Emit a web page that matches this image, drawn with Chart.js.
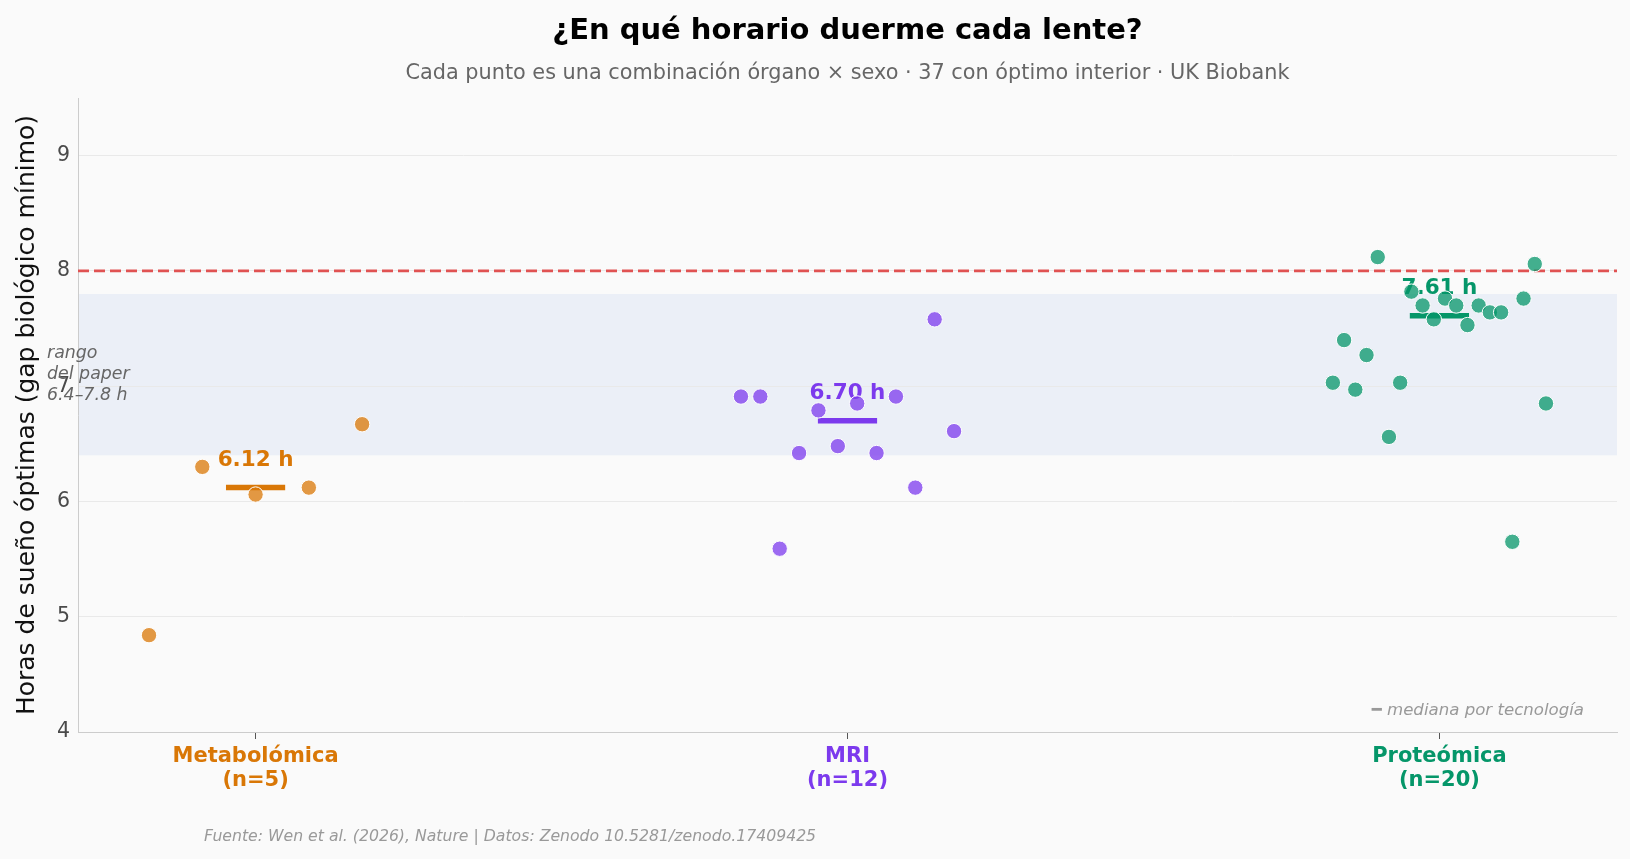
<!DOCTYPE html>
<html>
<head>
<meta charset="utf-8">
<script src="https://cdn.jsdelivr.net/npm/chart.js@4/dist/chart.umd.min.js"></script>
<style>
  html, body { margin: 0; padding: 0; background: #fafafa; }
  #wrap { width: 1630px; height: 859px; }
</style>
</head>
<body>
<div id="wrap"><canvas id="c" width="1630" height="859"></canvas></div>
<script>
// ---- data ----
const categories = ['Metabolómica', 'MRI', 'Proteómica'];
const counts = [5, 12, 20];
const metabHours = [4.84, 6.30, 6.06, 6.12, 6.67];
const mriHours = [6.91, 6.91, 5.59, 6.42, 6.79, 6.48, 6.85, 6.42, 6.91, 6.12, 7.58, 6.61];
const protHours = [7.03, 7.40, 6.97, 7.27, 8.12, 6.56, 7.03, 7.82, 7.70, 7.58, 7.76, 7.70, 7.53, 7.70, 7.64, 7.64, 5.65, 7.76, 8.06, 6.85];
const medians = [6.12, 6.70, 7.61];
const medianLabels = ['6.12 h', '6.70 h', '7.61 h'];
const paperRange = [6.4, 7.8];
const refHours = 8;
const yTicks = [4, 5, 6, 7, 8, 9];
const xTicks = [0, 1, 2];

const groupColors = ['#d97706', '#7c3aed', '#059669'];
const pointColors = ['rgba(217,119,6,0.75)', 'rgba(124,58,237,0.75)', 'rgba(5,150,105,0.75)'];
const FONT = "'DejaVu Sans', sans-serif";

// strip-plot placement: spread points evenly across a fixed band around each category
function strip(values, g) {
  const n = values.length;
  return values.map((v, i) => ({ x: g + (n > 1 ? -0.18 + 0.36 * i / (n - 1) : 0), y: v }));
}
const allGroups = [metabHours, mriHours, protHours];

const datasets = [];
allGroups.forEach((vals, g) => {
  datasets.push({
    label: categories[g],
    data: strip(vals, g),
    backgroundColor: pointColors[g],
    borderColor: '#ffffff',
    borderWidth: 1,
    pointRadius: 7.7,
    pointHoverRadius: 7.7,
    order: 0
  });
});
medians.forEach((m, g) => {
  datasets.push({
    label: 'mediana ' + categories[g],
    data: [{ x: g - 0.05, y: m }, { x: g + 0.05, y: m }],
    showLine: true,
    borderColor: groupColors[g],
    borderWidth: 5.5,
    borderCapStyle: 'butt',
    pointRadius: 0,
    order: 1
  });
});
datasets.push({
  label: 'ref',
  data: [{ x: -0.3, y: refHours }, { x: 2.3, y: refHours }],
  showLine: true,
  borderColor: '#e05252',
  borderWidth: 2.6,
  borderDash: [11, 5],
  pointRadius: 0,
  order: 2
});

const decor = {
  id: 'decor',
  beforeDraw(chart) {
    const { ctx, chartArea: a, scales: { y } } = chart;
    const y1 = y.getPixelForValue(paperRange[1]);
    const y0 = y.getPixelForValue(paperRange[0]);
    ctx.save();
    ctx.fillStyle = '#ebeff7';
    ctx.fillRect(a.left, y1, a.right - a.left, y0 - y1);
    ctx.restore();
  },
  beforeDatasetsDraw(chart) {
    const { ctx, scales: { x, y } } = chart;
    ctx.save();
    ctx.font = 'bold 21.5px ' + FONT;
    ctx.textAlign = 'center';
    ctx.textBaseline = 'alphabetic';
    medians.forEach((m, g) => {
      ctx.fillStyle = groupColors[g];
      ctx.fillText(medianLabels[g], x.getPixelForValue(g), y.getPixelForValue(m) - 22);
    });
    ctx.restore();
  },
  afterDraw(chart) {
    const { ctx, chartArea: a, scales: { y } } = chart;
    const cx = (a.left + a.right) / 2;
    ctx.save();
    ctx.textAlign = 'center';
    ctx.textBaseline = 'alphabetic';
    ctx.fillStyle = '#000000';
    ctx.font = 'bold 29px ' + FONT;
    ctx.fillText('¿En qué horario duerme cada lente?', cx, 39);
    ctx.fillStyle = '#666666';
    ctx.font = '20.8px ' + FONT;
    ctx.fillText('Cada punto es una combinación órgano × sexo · 37 con óptimo interior · UK Biobank', cx, 79);

    // y-axis title
    ctx.save();
    ctx.translate(27, (a.top + a.bottom) / 2);
    ctx.rotate(-Math.PI / 2);
    ctx.textBaseline = 'middle';
    ctx.fillStyle = '#111111';
    ctx.font = '25px ' + FONT;
    ctx.fillText('Horas de sueño óptimas (gap biológico mínimo)', 0, 0);
    ctx.restore();

    // paper range note
    ctx.textAlign = 'left';
    ctx.fillStyle = '#666666';
    ctx.font = 'italic 17.4px ' + FONT;
    const mid = y.getPixelForValue((paperRange[0] + paperRange[1]) / 2);
    ctx.fillText('rango', 47, mid - 17);
    ctx.fillText('del paper', 47, mid + 4);
    ctx.fillText('6.4–7.8 h', 47, mid + 25);

    // median legend
    ctx.textAlign = 'right';
    ctx.fillStyle = '#999999';
    ctx.font = 'italic 16.6px ' + FONT;
    ctx.fillText('━ mediana por tecnología', 1584, 715);

    // footer
    ctx.textAlign = 'left';
    ctx.font = 'italic 15.7px ' + FONT;
    ctx.fillText('Fuente: Wen et al. (2026), Nature | Datos: Zenodo 10.5281/zenodo.17409425', 204, 841);
    ctx.restore();
  }
};

Chart.defaults.font.family = FONT;

new Chart(document.getElementById('c'), {
  type: 'scatter',
  data: { datasets },
  options: {
    responsive: false,
    animation: false,
    devicePixelRatio: 1,
    layout: { padding: { top: 98, right: 13, bottom: 0, left: 0 } },
    plugins: { legend: { display: false }, tooltip: { enabled: false }, title: { display: false } },
    scales: {
      x: {
        type: 'linear',
        min: -0.3,
        max: 2.3,
        afterFit(s) { s.height = 127; },
        afterBuildTicks(s) { s.ticks = xTicks.map(v => ({ value: v })); },
        grid: { display: true, drawOnChartArea: false, drawTicks: true, tickLength: 7, tickColor: '#555555', tickWidth: 1 },
        border: { display: true, color: '#cccccc', width: 1 },
        ticks: {
          padding: 5,
          autoSkip: false,
          maxRotation: 0,
          callback: (v, i) => [categories[i], '(n=' + counts[i] + ')'],
          color: (c) => groupColors[c.index],
          font: { size: 21, weight: 'bold', lineHeight: 1.15 }
        }
      },
      y: {
        type: 'linear',
        min: 4,
        max: 9.5,
        afterFit(s) { s.width = 78; },
        afterBuildTicks(s) { s.ticks = yTicks.map(v => ({ value: v })); },
        grid: { color: '#e9e9e9', lineWidth: 1, drawTicks: false },
        border: { display: true, color: '#cccccc', width: 1 },
        ticks: { padding: 8, color: '#4a4a4a', font: { size: 20.5 }, callback: v => String(v) }
      }
    }
  },
  plugins: [decor]
});
</script>
</body>
</html>
